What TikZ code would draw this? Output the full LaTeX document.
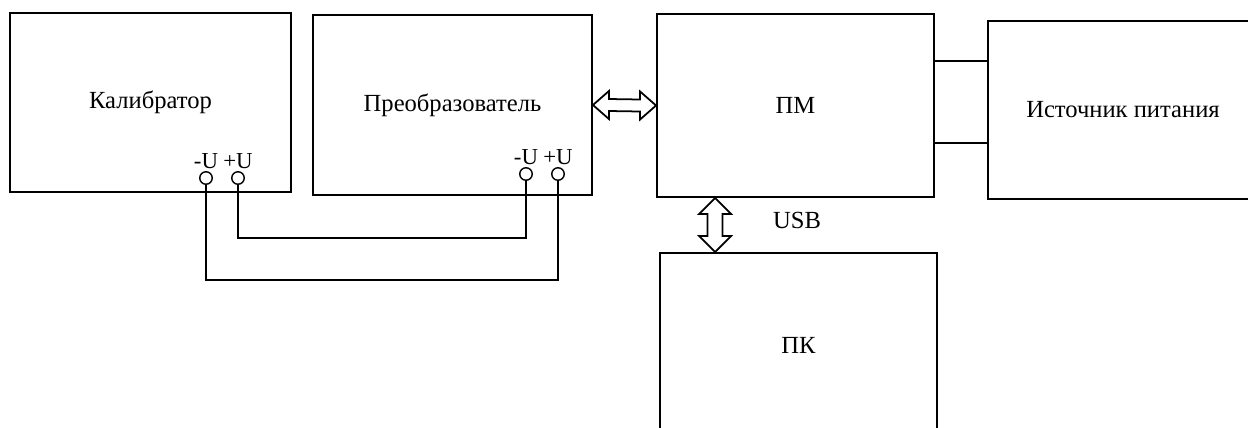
\documentclass[tikz,border=0pt]{standalone}
\usepackage{fontspec}
\setmainfont{Liberation Serif}
\usetikzlibrary{calc}

\tikzset{
  blok/.style={draw,line width=1.1pt,inner sep=0pt,font=\fontsize{14}{16}\selectfont},
  klem/.style={circle,draw,line width=0.8pt,minimum size=0.25cm,inner sep=0pt,
    label={[font=\fontsize{13}{15}\selectfont,inner sep=1pt]above:#1}},
  provod/.style={line width=0.8pt},
  strelka/.style={line width=1pt,line join=miter},
}

\begin{document}
\begin{tikzpicture}[x=0.02cm,y=-0.02cm]
  \useasboundingbox (0,0) rectangle (1248,427);
  \clip (0,0) rectangle (1248,427);

  % blocks
  \node[blok,minimum width=5.62cm,minimum height=3.58cm] (kalib) at (150.5,102.5) {Калибратор};
  \node[blok,minimum width=5.58cm,minimum height=3.6cm] (preob) at (452.5,105) {Преобразователь};
  \node[blok,minimum width=5.54cm,minimum height=3.66cm] (pm) at (795.5,105.5) {ПМ};
  \node[blok,minimum width=5.4cm,minimum height=3.56cm] (istoch) at (1123,110) {Источник питания};
  \node[blok,minimum width=5.54cm,minimum height=3.68cm] (pk) at (798.5,345) {ПК};

  % terminals
  \node[klem=-U] (kminus) at (206,178) {};
  \node[klem=+U] (kplus) at (238,178) {};
  \node[klem=-U] (pminus) at (526,174) {};
  \node[klem=+U] (pplus) at (558,174) {};

  \draw[provod] (kplus.south) -- (kplus.south |- 0,238) -| (pminus.south);
  \draw[provod] (kminus.south) -- (kminus.south |- 0,280) -| (pplus.south);

  % power lines
  \coordinate (sv1) at ($(pm.east)+(0,-44.5)$);
  \coordinate (sv2) at ($(pm.east)+(0,37.5)$);
  \draw[provod] (sv1) -- (sv1 -| istoch.west);
  \draw[provod] (sv2) -- (sv2 -| istoch.west);

  % double arrows
  \draw[strelka] (preob.east) -- ++(16,-14) -- ++(0,8) -- ($(pm.west)+(-16,-6)$) -- ++(0,-8)
    -- (pm.west) -- ++(-16,14) -- ++(0,-8) -- ($(preob.east)+(16,6)$) -- ++(0,8) -- cycle;
  \coordinate (usbA) at ($(pm.south west)+(59,0)$);
  \coordinate (usbB) at (usbA |- pk.north);
  \draw[strelka] (usbA) -- ++(16,16) -- ++(-8.5,0) -- ($(usbB)+(7.5,-16)$) -- ++(8.5,0)
    -- (usbB) -- ++(-16,-16) -- ++(8.5,0) -- ($(usbA)+(-7.5,16)$) -- ++(-8.5,0) -- cycle;
  \node[font=\fontsize{14}{16}\selectfont] (usb) at (797,220) {USB};
\end{tikzpicture}
\end{document}
